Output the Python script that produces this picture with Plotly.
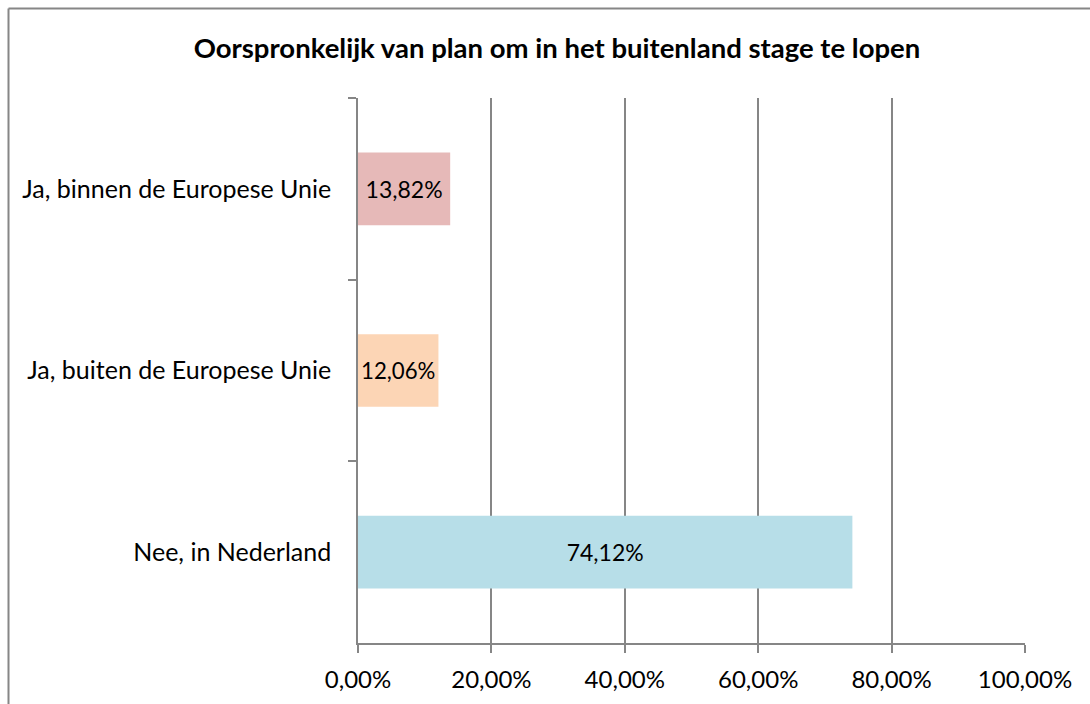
import plotly.graph_objects as go

categories = ["Ja, binnen de Europese Unie", "Ja, buiten de Europese Unie", "Nee, in Nederland"]
values = [0.1382, 0.1206, 0.7412]
labels = ["13,82%", "12,06%", "74,12%"]
colors = ["#E6B9B8", "#FCD5B5", "#B7DEE8"]
x_ticks = [0, 0.2, 0.4, 0.6, 0.8, 1.0]

FONT = "Lato"
GRAY = "#868686"

fig = go.Figure(go.Bar(
    y=categories, x=values, orientation="h",
    marker=dict(color=colors, line=dict(width=0)),
    text=labels, textposition="inside", insidetextanchor="middle",
    textangle=0, textfont=dict(family=FONT, size=23, color="black"),
    width=0.4, hoverinfo="skip",
))

W, H = 1090, 704
L, R, T, B = 358, 65, 98, 61
pw = W - L - R
ph = H - T - B

fig.update_layout(
    width=W, height=H,
    margin=dict(l=L, r=R, t=T, b=B, pad=0),
    paper_bgcolor="white", plot_bgcolor="white",
    separators=",.",
    showlegend=False,
    font=dict(family=FONT, size=24, color="black"),
    title=dict(text="<b>Oorspronkelijk van plan om in het buitenland stage te lopen</b>",
               x=557 / W, xanchor="center", y=1 - 48 / H, yanchor="middle",
               font=dict(family=FONT, size=27.5, color="black")),
    xaxis=dict(range=[0, 1], tickvals=x_ticks, tickformat=".2%",
               showgrid=True, gridcolor=GRAY, gridwidth=1.5,
               showline=True, linecolor=GRAY, linewidth=1.5,
               ticks="outside", ticklen=8, tickcolor=GRAY, tickwidth=1.5,
               ticklabelstandoff=6,
               zeroline=False, tickfont=dict(size=24, family=FONT),
               fixedrange=True),
    yaxis=dict(autorange="reversed", type="category",
               showgrid=False, showline=True, linecolor=GRAY, linewidth=1.5,
               ticks="outside", ticklen=8, tickcolor=GRAY, tickwidth=1.5,
               tickson="boundaries", ticklabelstandoff=20,
               tickfont=dict(size=25, family=FONT), fixedrange=True),
    shapes=[dict(type="line", xref="paper", yref="paper",
                 x0=(8.5 - L) / pw, x1=(8.5 - L) / pw,
                 y0=(H - B - 8.5) / ph, y1=(H - B - 900) / ph,
                 line=dict(color=GRAY, width=2)),
            dict(type="line", xref="paper", yref="paper",
                 x0=(8.5 - L) / pw, x1=(1300 - L) / pw,
                 y0=(H - B - 8.5) / ph, y1=(H - B - 8.5) / ph,
                 line=dict(color=GRAY, width=2))],
)

fig.write_html("out.html", config={"displayModeBar": False},
               post_script="document.body.style.margin='0';")
